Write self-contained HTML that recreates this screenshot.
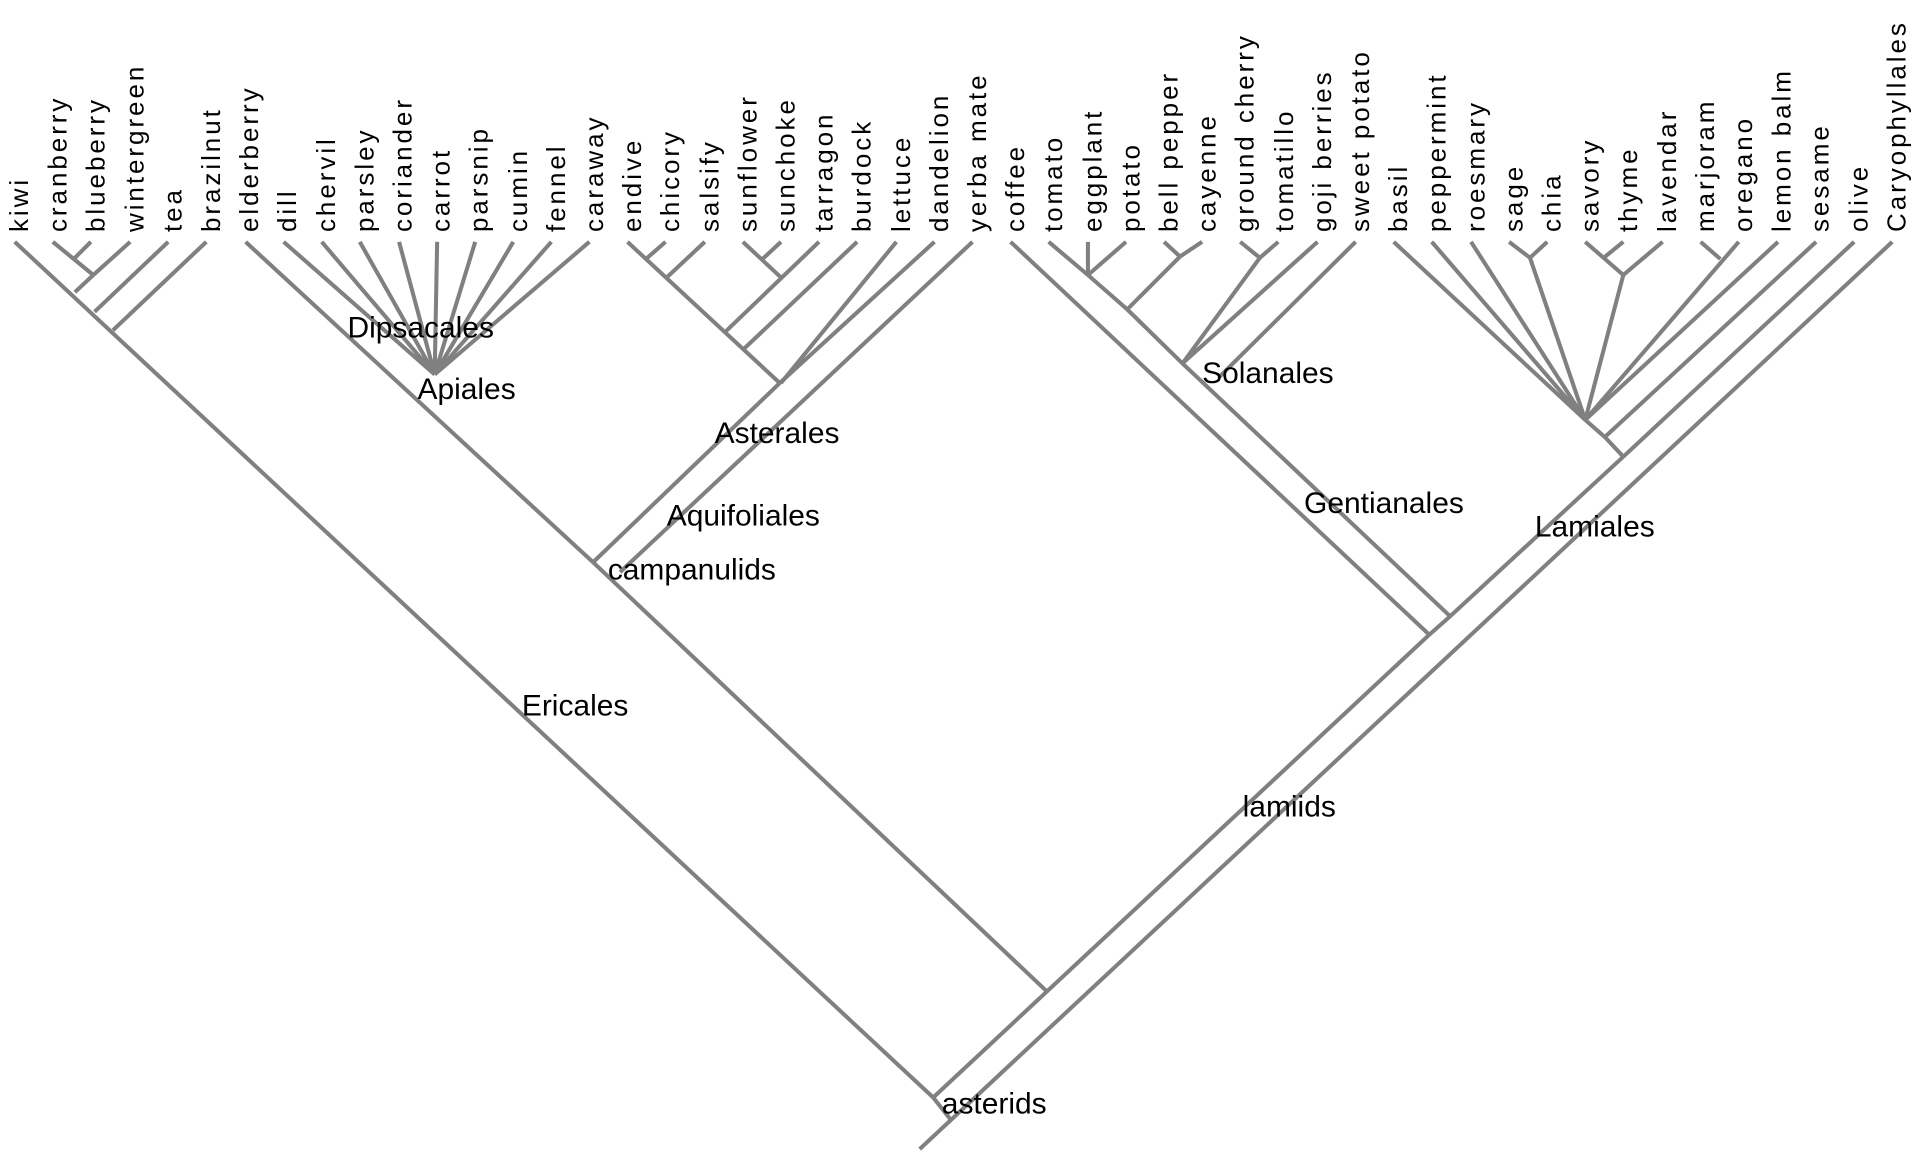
<!DOCTYPE html>
<html><head><meta charset="utf-8"><style>
html,body{margin:0;padding:0;background:#fff;}
svg{display:block;}
.l{font-family:"Liberation Sans",Arial,sans-serif;font-size:21.2px;letter-spacing:2.4px;fill:#000;}
.c{font-family:"Liberation Sans",Arial,sans-serif;font-size:24.4px;fill:#000;}
</style></head><body>
<svg width="1918" height="1154" viewBox="0 0 1562 940" preserveAspectRatio="none" xmlns="http://www.w3.org/2000/svg">
<g stroke="#808080" stroke-width="3.3" fill="none" stroke-linecap="butt">
<!-- Ericales -->
<line x1="12" y1="197" x2="760" y2="894"/>
<line x1="43" y1="197" x2="76" y2="224"/>
<line x1="74" y1="197" x2="60" y2="211"/>
<line x1="106" y1="197" x2="76" y2="224"/>
<line x1="76" y1="224" x2="61" y2="238"/>
<line x1="137" y1="197" x2="77" y2="254"/>
<line x1="168" y1="197" x2="92" y2="269"/>
<!-- campanulids -->
<line x1="200" y1="197" x2="483" y2="458"/>
<line x1="231" y1="197" x2="354" y2="305"/>
<line x1="262" y1="197" x2="354" y2="305"/>
<line x1="293" y1="197" x2="354" y2="305"/>
<line x1="325" y1="197" x2="354" y2="305"/>
<line x1="356" y1="197" x2="354" y2="305"/>
<line x1="387" y1="197" x2="354" y2="305"/>
<line x1="418" y1="197" x2="354" y2="305"/>
<line x1="449" y1="197" x2="354" y2="305"/>
<line x1="480" y1="197" x2="354" y2="305"/>
<line x1="483" y1="458" x2="853" y2="808"/>
<line x1="483" y1="458" x2="635" y2="312"/>
<line x1="505" y1="466" x2="792" y2="197"/>
<!-- Asterales -->
<line x1="511" y1="197" x2="635" y2="312"/>
<line x1="542" y1="197" x2="526" y2="211"/>
<line x1="574" y1="197" x2="543" y2="226"/>
<line x1="605" y1="197" x2="636" y2="226"/>
<line x1="636" y1="197" x2="621" y2="211"/>
<line x1="667" y1="197" x2="591" y2="270"/>
<line x1="698" y1="197" x2="606" y2="284"/>
<line x1="730" y1="197" x2="636" y2="312"/>
<line x1="761" y1="197" x2="635" y2="312"/>
<!-- root -->
<line x1="749" y1="936" x2="1541" y2="197"/>
<line x1="760" y1="894" x2="775" y2="913"/>
<polyline points="760,894 1164,517 1181,502 1322,372"/>
<!-- Gentianales / Solanales -->
<line x1="823" y1="197" x2="1164" y2="517"/>
<polyline points="854,197 886,224 918,252 963,296 1181,502"/>
<line x1="886" y1="197" x2="886" y2="224"/>
<line x1="917" y1="197" x2="886" y2="224"/>
<line x1="948" y1="197" x2="961" y2="209"/>
<line x1="979" y1="197" x2="961" y2="209"/>
<line x1="961" y1="209" x2="918" y2="252"/>
<line x1="1010" y1="197" x2="1026" y2="210"/>
<line x1="1041" y1="197" x2="1026" y2="210"/>
<line x1="1026" y1="210" x2="963" y2="296"/>
<line x1="1073" y1="197" x2="963" y2="296"/>
<line x1="1104" y1="197" x2="993" y2="307"/>
<!-- Lamiales -->
<line x1="1135" y1="197" x2="1291" y2="342"/>
<line x1="1166" y1="197" x2="1291" y2="342"/>
<line x1="1198" y1="197" x2="1291" y2="342"/>
<line x1="1229" y1="197" x2="1246" y2="210"/>
<line x1="1260" y1="197" x2="1246" y2="210"/>
<line x1="1246" y1="210" x2="1291" y2="342"/>
<line x1="1291" y1="197" x2="1322" y2="224"/>
<line x1="1322" y1="197" x2="1306" y2="210"/>
<line x1="1354" y1="197" x2="1322" y2="224"/>
<line x1="1322" y1="224" x2="1291" y2="342"/>
<line x1="1385" y1="197" x2="1401" y2="211"/>
<line x1="1416" y1="197" x2="1291" y2="342"/>
<line x1="1448" y1="197" x2="1291" y2="342"/>
<polyline points="1291,342 1307,356 1322,372"/>
<line x1="1479" y1="197" x2="1307" y2="356"/>
<line x1="1510" y1="197" x2="1322" y2="372"/>
</g>
<g class="l">
<text transform="translate(23,189) rotate(-90)">kiwi</text>
<text transform="translate(54,189) rotate(-90)">cranberry</text>
<text transform="translate(85,189) rotate(-90)">blueberry</text>
<text transform="translate(117,189) rotate(-90)">wintergreen</text>
<text transform="translate(148,189) rotate(-90)">tea</text>
<text transform="translate(179,189) rotate(-90)">brazilnut</text>
<text transform="translate(210,189) rotate(-90)">elderberry</text>
<text transform="translate(241,189) rotate(-90)">dill</text>
<text transform="translate(273,189) rotate(-90)">chervil</text>
<text transform="translate(304,189) rotate(-90)">parsley</text>
<text transform="translate(335,189) rotate(-90)">coriander</text>
<text transform="translate(366,189) rotate(-90)">carrot</text>
<text transform="translate(397,189) rotate(-90)">parsnip</text>
<text transform="translate(429,189) rotate(-90)">cumin</text>
<text transform="translate(460,189) rotate(-90)">fennel</text>
<text transform="translate(491,189) rotate(-90)">caraway</text>
<text transform="translate(522,189) rotate(-90)">endive</text>
<text transform="translate(553,189) rotate(-90)">chicory</text>
<text transform="translate(585,189) rotate(-90)">salsify</text>
<text transform="translate(616,189) rotate(-90)">sunflower</text>
<text transform="translate(647,189) rotate(-90)">sunchoke</text>
<text transform="translate(678,189) rotate(-90)">tarragon</text>
<text transform="translate(709,189) rotate(-90)">burdock</text>
<text transform="translate(741,189) rotate(-90)">lettuce</text>
<text transform="translate(772,189) rotate(-90)">dandelion</text>
<text transform="translate(803,189) rotate(-90)">yerba mate</text>
<text transform="translate(834,189) rotate(-90)">coffee</text>
<text transform="translate(865,189) rotate(-90)">tomato</text>
<text transform="translate(897,189) rotate(-90)">eggplant</text>
<text transform="translate(928,189) rotate(-90)">potato</text>
<text transform="translate(959,189) rotate(-90)">bell pepper</text>
<text transform="translate(990,189) rotate(-90)">cayenne</text>
<text transform="translate(1021,189) rotate(-90)">ground cherry</text>
<text transform="translate(1053,189) rotate(-90)">tomatillo</text>
<text transform="translate(1084,189) rotate(-90)">goji berries</text>
<text transform="translate(1115,189) rotate(-90)">sweet potato</text>
<text transform="translate(1146,189) rotate(-90)">basil</text>
<text transform="translate(1177,189) rotate(-90)">peppermint</text>
<text transform="translate(1209,189) rotate(-90)">roesmary</text>
<text transform="translate(1240,189) rotate(-90)">sage</text>
<text transform="translate(1271,189) rotate(-90)">chia</text>
<text transform="translate(1302,189) rotate(-90)">savory</text>
<text transform="translate(1333,189) rotate(-90)">thyme</text>
<text transform="translate(1365,189) rotate(-90)">lavendar</text>
<text transform="translate(1396,189) rotate(-90)">marjoram</text>
<text transform="translate(1427,189) rotate(-90)">oregano</text>
<text transform="translate(1458,189) rotate(-90)">lemon balm</text>
<text transform="translate(1489,189) rotate(-90)">sesame</text>
<text transform="translate(1521,189) rotate(-90)">olive</text>
<text transform="translate(1552,189) rotate(-90)">Caryophyllales</text>
</g>
<g class="c">
<text x="283" y="275">Dipsacales</text>
<text x="340" y="325">Apiales</text>
<text x="582" y="361">Asterales</text>
<text x="543" y="428">Aquifoliales</text>
<text x="495" y="472">campanulids</text>
<text x="425" y="583">Ericales</text>
<text x="979" y="312">Solanales</text>
<text x="1062" y="418">Gentianales</text>
<text x="1250" y="437">Lamiales</text>
<text x="1012" y="665">lamiids</text>
<text x="767" y="907">asterids</text>
</g>
</svg>
</body></html>
